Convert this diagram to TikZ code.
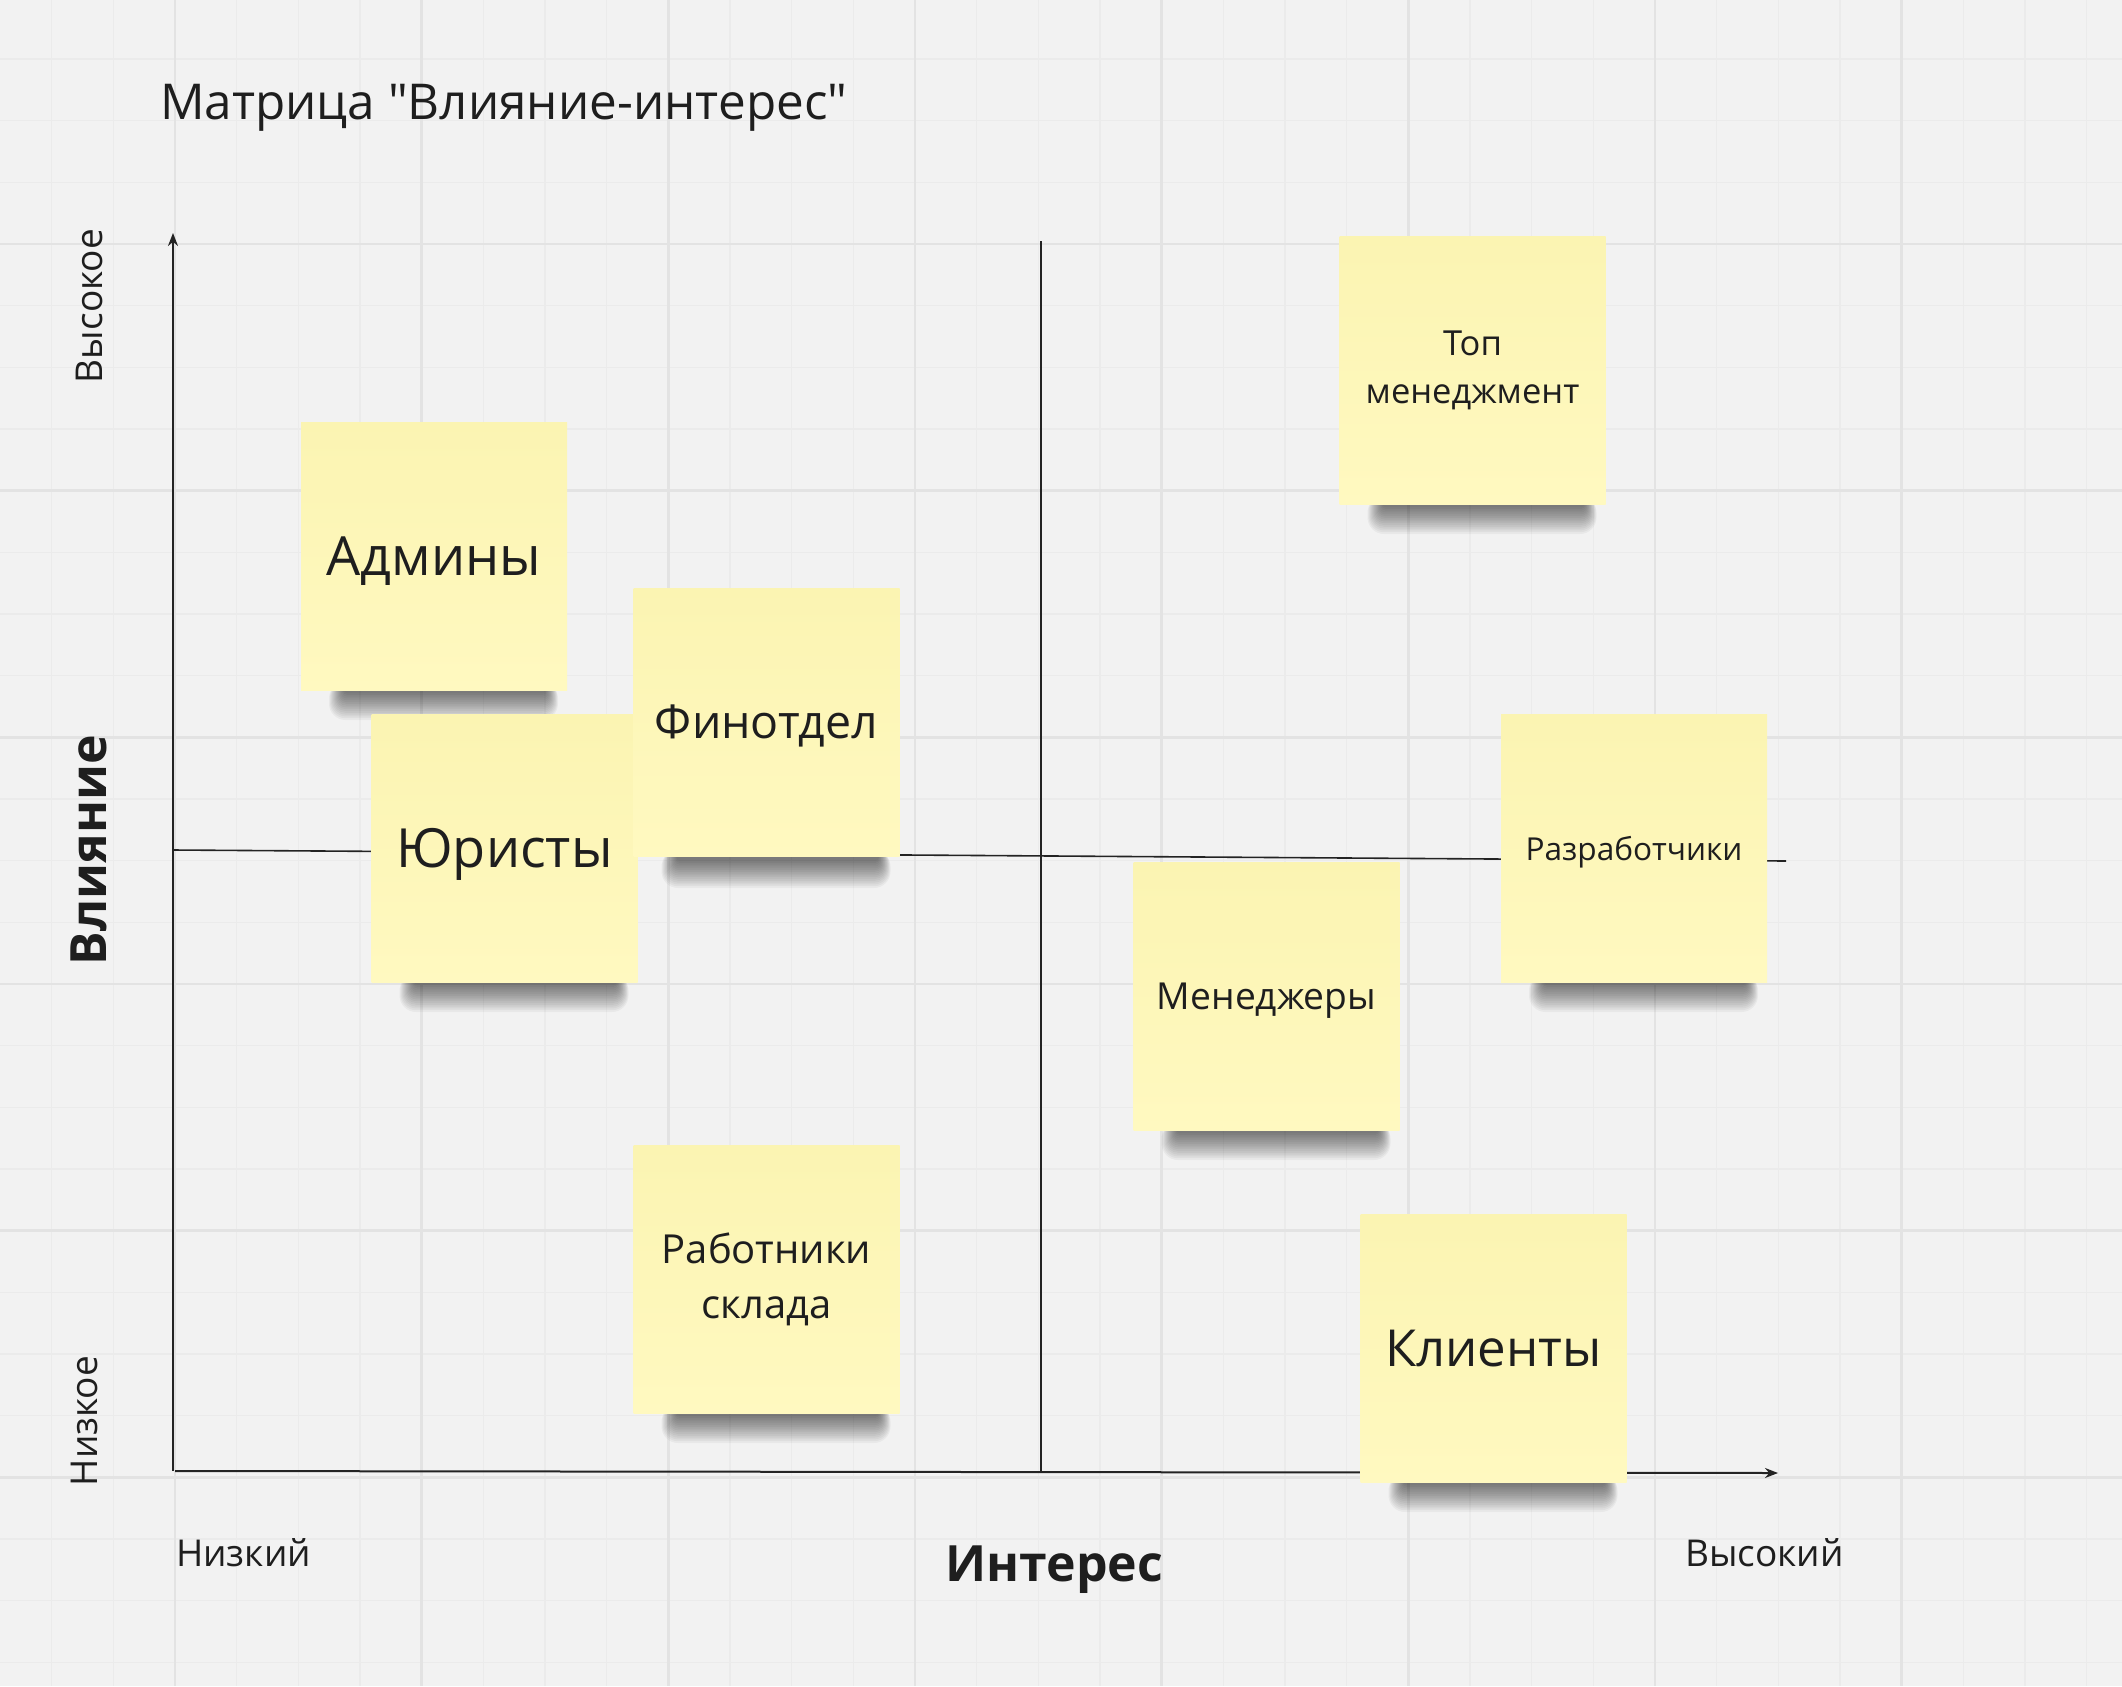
\documentclass[tikz,border=0pt]{standalone}
\usepackage{fontspec}
\setmainfont{Open Sans}[Ligatures=TeXOff]
\usetikzlibrary{arrows.meta}
\definecolor{bgc}{RGB}{242,242,242}
\definecolor{gminor}{RGB}{235,235,235}
\definecolor{gmajor}{RGB}{227,227,227}
\definecolor{ink}{RGB}{30,30,30}
\definecolor{stickytop}{RGB}{251,244,178}
\definecolor{stickybot}{RGB}{255,249,192}
\definecolor{axisc}{RGB}{35,35,35}
\newcommand\stickyshadow[2]{%
  \begin{scope}[shift={(#1,#2)}]
    \foreach \i in {0,...,15}{
      \pgfmathsetmacro\rr{3+0.9*\i}
      \fill[black,opacity=0.04,rounded corners=\rr pt] (-90-1.0*\i,126) rectangle (112+0.8*\i,137+1.8*\i);
    }
  \end{scope}}
\tikzset{
  sticky/.style={shape=rectangle, minimum width=266pt, minimum height=268pt, inner sep=0pt,
    top color=stickytop, bottom color=stickybot, draw=none, align=center, text=ink},
  oneline/.style={text depth=0pt},
  axislabel/.style={text=ink, inner sep=0pt, font=\fontsize{37}{44}\selectfont},
  boldlabel/.style={text=ink, inner sep=0pt, font=\fontsize{50}{58}\selectfont\bfseries},
  axisline/.style={draw=axisc, line width=2pt},
  divider/.style={draw=axisc, line width=1.6pt},
}
\begin{document}
\begin{tikzpicture}[x=1pt,y=-1pt]
\useasboundingbox (0,0) rectangle (2122,1686);
\fill[bgc] (0,0) rectangle (2122,1686);
% grid
\foreach \k in {-2,...,31}{
  \pgfmathsetmacro\gx{175+61.667*\k}
  \draw[gminor, line width=1.5pt] (\gx,0) -- (\gx,1686);
}
\foreach \k in {-3,...,23}{
  \pgfmathsetmacro\gy{244+61.667*\k}
  \draw[gminor, line width=1.5pt] (0,\gy) -- (2122,\gy);
}
\foreach \k in {0,...,7}{
  \pgfmathsetmacro\gx{175+246.667*\k}
  \draw[gmajor, line width=2.5pt] (\gx,0) -- (\gx,1686);
}
\foreach \k in {0,...,5}{
  \pgfmathsetmacro\gy{244+246.667*\k}
  \draw[gmajor, line width=2.5pt] (0,\gy) -- (2122,\gy);
}
% title
\node[anchor=base west, text=ink, inner sep=0pt, font=\fontsize{49.4}{58}\selectfont] (title) at (160,119) {Матрица "Влияние-интерес"};
% axes
\coordinate (O) at (173,1471);
\coordinate (ytip) at (173,233);
\coordinate (xstart) at (175,1471);
\coordinate (xtip) at (1778,1473);
\coordinate (vtop) at (1041,241);
\coordinate (vbot) at (1041,1472);
\coordinate (hleft) at (173,850);
\coordinate (hright) at (1786,861);
\draw[axisline, -{Stealth[length=13pt,width=10pt]}] (O) -- (ytip);
\draw[axisline, -{Stealth[length=13pt,width=10pt]}] (xstart) -- (xtip);
\draw[divider] (vtop) -- (vbot);
\draw[divider] (hleft) -- (hright);
% axis labels
\node[axislabel, rotate=90] (yhigh) at (89,306) {Высокое};
\node[axislabel, rotate=90] (ylow) at (84,1421) {Низкое};
\node[boldlabel, rotate=90] (yname) at (89,850) {Влияние};
\node[axislabel, anchor=base west] (xlow) at (176,1566) {Низкий};
\node[axislabel, anchor=base west] (xhigh) at (1685,1566) {Высокий};
\node[boldlabel, anchor=base] (xname) at (1054,1581) {Интерес};
% sticky notes
\stickyshadow{434}{556}
\node[sticky, oneline, font=\fontsize{54}{64}\selectfont] (admins) at (434,556) {Админы};
\stickyshadow{504.5}{848}
\node[sticky, oneline, font=\fontsize{54}{64}\selectfont] (lawyers) at (504.5,848) {Юристы};
\stickyshadow{766.5}{724}
\node[sticky, oneline, font=\fontsize{46.5}{54}\selectfont] (finance) at (766.5,722) {Финотдел};
\stickyshadow{766.5}{1279}
\node[sticky, font=\fontsize{40}{55}\selectfont] (warehouse) at (766.5,1279) {Работники\\склада};
\stickyshadow{1472.5}{370}
\node[sticky, font=\fontsize{34.5}{48}\selectfont] (topmgmt) at (1472.5,370) {Топ\\менеджмент};
\stickyshadow{1634}{848}
\node[sticky, oneline, font=\fontsize{31.6}{40}\selectfont] (devs) at (1634,848) {Разработчики};
\stickyshadow{1266.5}{996}
\node[sticky, oneline, font=\fontsize{37.2}{44}\selectfont] (managers) at (1266.5,996) {Менеджеры};
\stickyshadow{1493.5}{1348}
\node[sticky, oneline, font=\fontsize{51}{60}\selectfont] (clients) at (1493.5,1348) {Клиенты};
\end{tikzpicture}
\end{document}
